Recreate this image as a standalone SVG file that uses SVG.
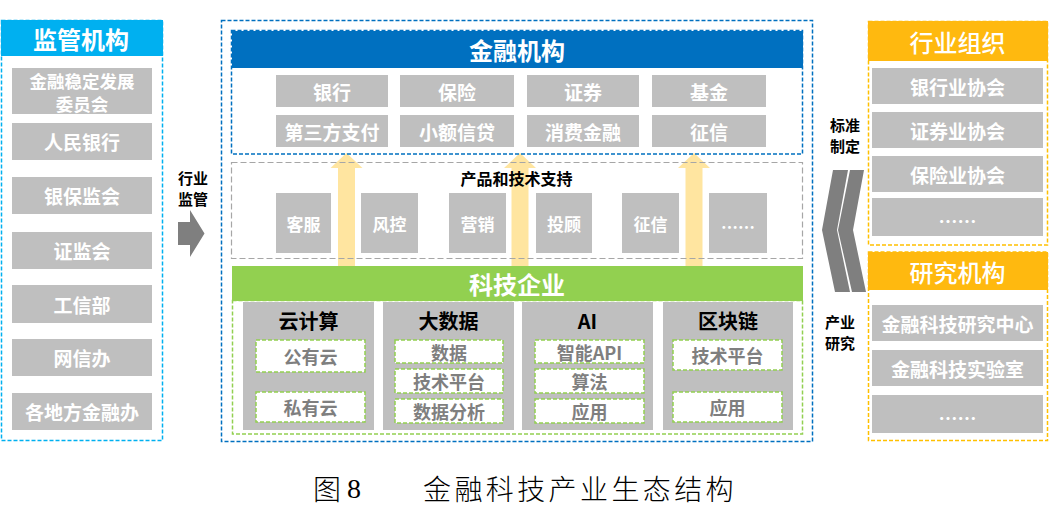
<svg xmlns="http://www.w3.org/2000/svg" width="1049" height="516" viewBox="0 0 1049 516">
<style>
text{font-family:"Noto Sans CJK SC","Liberation Sans",sans-serif;text-anchor:middle;dominant-baseline:central}
.hd{font-size:24px;font-weight:bold;fill:#fff}
.hdn{font-size:24px;font-weight:500;fill:#fff}
.gb{fill:#BFBFBF}
.gt{font-size:19px;font-weight:bold;fill:#fff}
.st{font-size:17px;font-weight:bold;fill:#fff}
.lb{font-size:16px;font-weight:bold;fill:#000}
.lb2{font-size:15px;font-weight:bold;fill:#000}
.ct{font-size:20px;font-weight:bold;fill:#000}
.sb{fill:#fff;stroke:#92D050;stroke-width:1.5;stroke-dasharray:4 2}
.stx{font-size:18px;font-weight:bold;fill:#7F7F7F}
.arr{fill:#FFE08F;opacity:0.85}
.cap{font-size:28px;fill:#000;font-weight:300;text-anchor:start}
</style>

<g id="regulators">
  <rect x="1.5" y="20.5" width="161" height="420" fill="none" stroke="#00B0F0" stroke-width="1.5" stroke-dasharray="4 2"/>
  <rect x="1" y="20" width="162" height="36" fill="#00B0F0"/>
  <text class="hd" x="81" y="38">监管机构</text>
  <rect class="gb" x="12" y="68" width="140" height="46"/>
  <text class="gt" style="font-size:17.5px"><tspan x="82" y="79.5">金融稳定发展</tspan><tspan x="82" y="102.5">委员会</tspan></text>
  <rect class="gb" x="12" y="123" width="140" height="37"/>
  <text class="gt" x="82" y="141.5">人民银行</text>
  <rect class="gb" x="12" y="177" width="140" height="37"/>
  <text class="gt" x="82" y="195.5">银保监会</text>
  <rect class="gb" x="12" y="232" width="140" height="37"/>
  <text class="gt" x="82" y="250.5">证监会</text>
  <rect class="gb" x="12" y="285" width="140" height="38"/>
  <text class="gt" x="82" y="304">工信部</text>
  <rect class="gb" x="12" y="339" width="140" height="37"/>
  <text class="gt" x="82" y="357.5">网信办</text>
  <rect class="gb" x="12" y="393" width="140" height="37"/>
  <text class="gt" x="82" y="411.5">各地方金融办</text>
</g>

<g id="label-supervision">
  <text class="lb2"><tspan x="193" y="177">行业</tspan><tspan x="193" y="198">监管</tspan></text>
</g>

<g id="center-frame">
  <rect x="221.5" y="20.5" width="591" height="421" fill="none" stroke="#0070C0" stroke-width="1.5" stroke-dasharray="4 2"/>
</g>

<g id="connectors">
  <polygon fill="#7F7F7F" points="178,222 190,222 190,210 204.5,233.5 190,257 190,245 178,245"/>
  <polygon class="arr" points="338,266 338,168 330.5,168 346.5,153 362.5,168 355,168 355,266"/>
  <polygon class="arr" points="511.5,266 511.5,168 504,168 520,153 536,168 528.5,168 528.5,266"/>
  <polygon class="arr" points="685.5,266 685.5,168 678,168 694,153 710,168 702.5,168 702.5,266"/>
  <polygon fill="#7F7F7F" points="833,170 848,170 837,230 850,292 835,292 822,230"/>
  <polygon fill="#7F7F7F" points="850,170 864,170 853,230 866,292 852,292 838,230"/>
</g>

<g id="financial-institutions">
  <rect x="231.5" y="30.5" width="571" height="123.5" fill="none" stroke="#0070C0" stroke-width="1.5" stroke-dasharray="4 2"/>
  <rect x="232" y="31" width="571" height="37" fill="#0070C0"/>
  <text class="hd" x="517" y="49">金融机构</text>
  <rect class="gb" x="276" y="75" width="112" height="32"/>
  <text class="gt" x="332" y="91">银行</text>
  <rect class="gb" x="400" y="75" width="114" height="32"/>
  <text class="gt" x="457" y="91">保险</text>
  <rect class="gb" x="527" y="75" width="112" height="32"/>
  <text class="gt" x="583" y="91">证券</text>
  <rect class="gb" x="652" y="75" width="114" height="32"/>
  <text class="gt" x="709" y="91">基金</text>
  <rect class="gb" x="276" y="115" width="112" height="32"/>
  <text class="gt" x="332" y="131">第三方支付</text>
  <rect class="gb" x="400" y="115" width="114" height="32"/>
  <text class="gt" x="457" y="131">小额信贷</text>
  <rect class="gb" x="527" y="115" width="112" height="32"/>
  <text class="gt" x="583" y="131">消费金融</text>
  <rect class="gb" x="652" y="115" width="114" height="32"/>
  <text class="gt" x="709" y="131">征信</text>
</g>

<g id="product-tech-support">
  <rect x="231.5" y="162.5" width="571" height="96" fill="none" stroke="#A6A6A6" stroke-width="1.2" stroke-dasharray="6 3"/>
  <text class="lb" x="516.5" y="178">产品和技术支持</text>
  <rect class="gb" x="276" y="193" width="55" height="60"/>
  <text class="st" x="303.5" y="223">客服</text>
  <rect class="gb" x="361" y="193" width="57" height="60"/>
  <text class="st" x="389.5" y="223">风控</text>
  <rect class="gb" x="449" y="193" width="57" height="60"/>
  <text class="st" x="477.5" y="223">营销</text>
  <rect class="gb" x="536" y="193" width="56" height="60"/>
  <text class="st" x="564" y="223">投顾</text>
  <rect class="gb" x="622" y="193" width="57" height="60"/>
  <text class="st" x="650.5" y="223">征信</text>
  <rect class="gb" x="709" y="193" width="58" height="60"/>
  <text class="st" x="738" y="226">……</text>
</g>

<g id="tech-companies">
  <rect x="232" y="266" width="571" height="35" fill="#92D050"/>
  <text class="hd" x="517" y="283.5">科技企业</text>
  <rect x="232.5" y="300.5" width="570" height="133.5" fill="none" stroke="#92D050" stroke-width="1.5" stroke-dasharray="4 2"/>
  <rect class="gb" x="243" y="302" width="131" height="128"/>
  <text class="ct" x="308.5" y="320">云计算</text>
  <rect class="sb" x="256" y="340" width="109" height="32"/>
  <text class="stx" x="310.5" y="356">公有云</text>
  <rect class="sb" x="256" y="392" width="109" height="30"/>
  <text class="stx" x="310.5" y="407">私有云</text>

  <rect class="gb" x="383" y="302" width="131" height="128"/>
  <text class="ct" x="448.5" y="320">大数据</text>
  <rect class="sb" x="395" y="340" width="108" height="23"/>
  <text class="stx" x="449" y="351.5">数据</text>
  <rect class="sb" x="395" y="369" width="108" height="24"/>
  <text class="stx" x="449" y="381">技术平台</text>
  <rect class="sb" x="395" y="399" width="108" height="24"/>
  <text class="stx" x="449" y="411">数据分析</text>

  <rect class="gb" x="522" y="302" width="131" height="128"/>
  <text class="ct" x="587.5" y="320">AI</text>
  <rect class="sb" x="535" y="340" width="109" height="23"/>
  <text class="stx" x="589.5" y="351.5">智能API</text>
  <rect class="sb" x="535" y="369" width="109" height="24"/>
  <text class="stx" x="589.5" y="381">算法</text>
  <rect class="sb" x="535" y="399" width="109" height="24"/>
  <text class="stx" x="589.5" y="411">应用</text>

  <rect class="gb" x="663" y="302" width="130" height="128"/>
  <text class="ct" x="728" y="320">区块链</text>
  <rect class="sb" x="673" y="340" width="109" height="30"/>
  <text class="stx" x="727.5" y="355">技术平台</text>
  <rect class="sb" x="673" y="392" width="109" height="30"/>
  <text class="stx" x="727.5" y="407">应用</text>
</g>

<g id="industry-orgs">
  <rect x="868.5" y="21.5" width="179" height="223.5" fill="none" stroke="#FFC000" stroke-width="1.5" stroke-dasharray="4 2"/>
  <rect x="868" y="21" width="180" height="40" fill="#FFB90F"/>
  <text class="hdn" x="957.5" y="41.5">行业组织</text>
  <rect class="gb" x="872" y="68" width="171" height="36"/>
  <text class="gt" x="957.5" y="86">银行业协会</text>
  <rect class="gb" x="872" y="112" width="171" height="36"/>
  <text class="gt" x="957.5" y="130">证券业协会</text>
  <rect class="gb" x="872" y="156" width="171" height="36"/>
  <text class="gt" x="957.5" y="174">保险业协会</text>
  <rect class="gb" x="872" y="198" width="171" height="38"/>
  <text class="gt" x="957.5" y="220">……</text>
</g>

<g id="research-institutes">
  <rect x="868.5" y="252" width="179" height="188.5" fill="none" stroke="#FFC000" stroke-width="1.5" stroke-dasharray="4 2"/>
  <rect x="868" y="252" width="180" height="38" fill="#FFB90F"/>
  <text class="hdn" x="957.5" y="271">研究机构</text>
  <rect class="gb" x="872" y="305" width="171" height="36"/>
  <text class="gt" x="957.5" y="323">金融科技研究中心</text>
  <rect class="gb" x="872" y="350" width="171" height="36"/>
  <text class="gt" x="957.5" y="368">金融科技实验室</text>
  <rect class="gb" x="872" y="395" width="171" height="38"/>
  <text class="gt" x="957.5" y="417">……</text>
</g>

<g id="label-standards">
  <text class="lb2"><tspan x="845" y="123.5">标准</tspan><tspan x="845" y="144.5">制定</tspan></text>
</g>
<g id="label-research">
  <text class="lb2"><tspan x="840" y="320.5">产业</tspan><tspan x="840" y="341.5">研究</tspan></text>
</g>

<g id="caption">
  <text class="cap" x="313" y="488">图</text>
  <text class="cap" x="347" y="488" style="font-family:'Liberation Serif',serif">8</text>
  <text class="cap" x="423" y="488" style="letter-spacing:3.4px">金融科技产业生态结构</text>
</g>
</svg>
